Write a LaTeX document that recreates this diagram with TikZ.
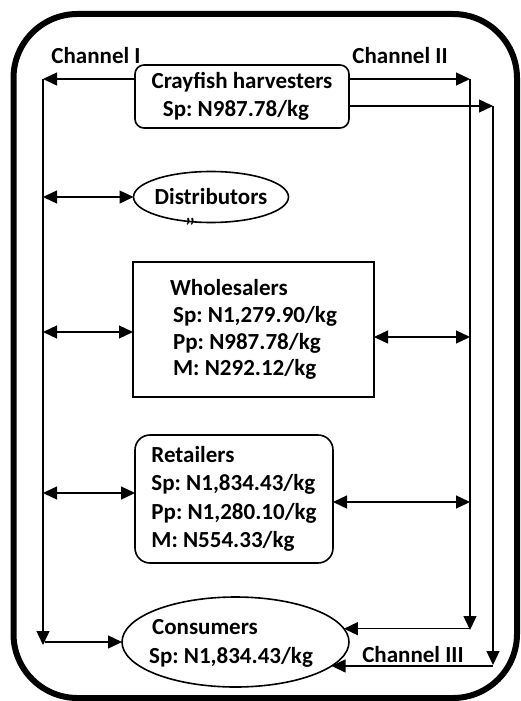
\documentclass[tikz,border=0pt]{standalone}
\usepackage{fontspec}
\setmainfont{Carlito}
\usetikzlibrary{arrows.meta,shapes.geometric}
\begin{document}
\frenchspacing
\begin{tikzpicture}[x=0.5pt,y=-0.5pt,
  every node/.style={font=\bfseries\frenchspacing\fontsize{11.5}{14}\selectfont, inner sep=0pt, outer sep=0pt},
  ln/.style={line width=0.7pt},
  arr/.style={ln,-{Triangle[length=7pt,width=6.5pt]}},
  darr/.style={ln,{Triangle[length=7pt,width=6.5pt]}-{Triangle[length=7pt,width=6.5pt]}},
  boxline/.style={draw,line width=0.8pt},
]
\useasboundingbox (0,0) rectangle (520,701);
\draw[line width=3pt, rounded corners=32pt] (13.5,14) rectangle (517,698);

% labels
\node (ch1) at (96,56) {Channel I};
\node (ch2) at (400,56) {Channel II};
\node (ch3) at (413,655) {Channel III};

% nodes
\node[boxline, rounded corners=4.5pt, minimum width=107pt, minimum height=31.5pt, align=center] (harv) at (242,96.5)
  {Crayfish harvesters\\\hspace{-6pt}Sp: N987.78/kg};
\node[boxline, ellipse, minimum width=77.5pt, minimum height=25.5pt] (dist) at (211,197) {};
\node (disttext) at (dist.center) {Distributors};
\node[font=\fontsize{13}{13}\selectfont] (ditto) at (190,227) {”};
\node[boxline, rectangle, minimum width=120.5pt, minimum height=67.5pt, align=left, font=\bfseries\frenchspacing\fontsize{11.5}{13.4}\selectfont] (whole) at (253.5,329.5)
  {Wholesalers\\\hspace{1.5pt}Sp: N1,279.90/kg\\\hspace{1.5pt}Pp: N987.78/kg\\\hspace{1.5pt}M: N292.12/kg};
\node[boxline, rounded corners=7.5pt, minimum width=99pt, minimum height=64pt, align=left, font=\bfseries\frenchspacing\fontsize{11.5}{14.2}\selectfont] (ret) at (234,499)
  {Retailers\\Sp: N1,834.43/kg\\Pp: N1,280.10/kg\\M: N554.33/kg};
\node[boxline, ellipse, minimum width=113.5pt, minimum height=45pt] (cons) at (235.5,642) {};
\node[align=left, font=\bfseries\frenchspacing\fontsize{11.5}{14.5}\selectfont] (constext) at (231,643) {\hspace{1.5pt}Consumers\\Sp: N1,834.43/kg};

% coordinates
\coordinate (Ltop) at (43,79);
\coordinate (Lbot) at (43,645);
\coordinate (Rtop) at (470,79);
\coordinate (Rbot) at (470,630);
\coordinate (Qtop) at (493,106);
\coordinate (Qbot) at (493,665);
\coordinate (Lwh) at (43,332);
\coordinate (Lret) at (43,493);
\coordinate (Rwh) at (470,337);
\coordinate (Rret) at (470,502);

% Channel I
\draw[arr] (harv.west |- Ltop) -- (Ltop);
\draw[arr] (Ltop) -- (Lbot);
\draw[arr] ([xshift=1pt]Lbot |- cons.west) -- (cons.west);
% Channel II
\draw[arr] (harv.east |- Rtop) -- (Rtop);
\draw[arr] (Rtop) -- (Rbot);
\draw[arr] (Rbot |- cons.7) -- (cons.7);
% Channel III
\draw[arr] (harv.east |- Qtop) -- (Qtop);
\draw[arr] (Qtop) -- (Qbot);
\draw[arr] (Qbot |- cons.-14) -- (cons.-14);

% side double arrows
\draw[darr] (Ltop |- dist.west) -- (dist.west);
\draw[darr] (Lwh) -- (whole.west |- Lwh);
\draw[darr] (Lret) -- (ret.west |- Lret);
\draw[darr] (whole.east |- Rwh) -- (Rwh);
\draw[darr] (ret.east |- Rret) -- (Rret);
\end{tikzpicture}
\end{document}
